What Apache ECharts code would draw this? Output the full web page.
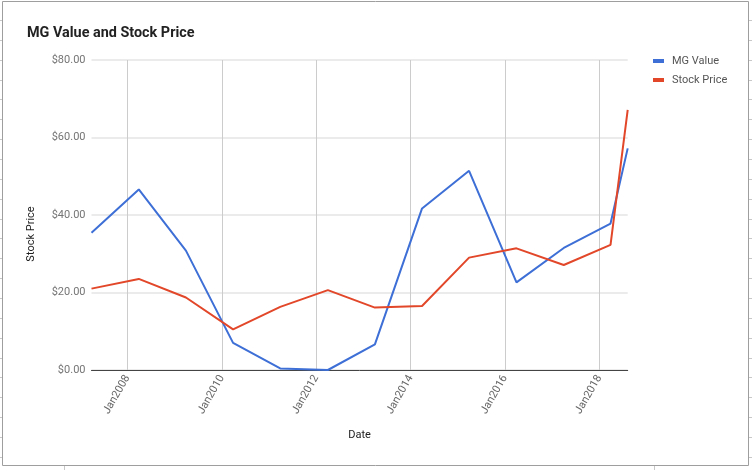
<!DOCTYPE html>
<html>
<head>
<meta charset="utf-8">
<script src="https://cdn.jsdelivr.net/npm/echarts@6/dist/echarts.min.js"></script>
<style>
  html, body { margin: 0; padding: 0; background: #fff; }
  #chart { width: 752px; height: 470px; }
</style>
</head>
<body>
<div id="chart"></div>
<script>
// ---- data ----
const dates = ['2007-03-28', '2008-03-28', '2009-03-28', '2010-03-28', '2011-03-28', '2012-03-31',
               '2013-03-30', '2014-03-30', '2015-03-29', '2016-03-30', '2017-03-31', '2018-03-28', '2018-08-08'];
const mgValue = [35.4, 46.6, 30.8, 7.0, 0.4, 0.0, 6.6, 41.7, 51.4, 22.6, 31.5, 37.8, 57.2];
const stockPrice = [21.0, 23.5, 18.7, 10.5, 16.3, 20.6, 16.1, 16.5, 29.0, 31.4, 27.1, 32.3, 67.1];
const xTickYears = [2008, 2010, 2012, 2014, 2016, 2018];
const yTicks = { min: 0, max: 80, interval: 20 };

const toTime = s => { const p = s.split('-').map(Number); return Date.UTC(p[0], p[1] - 1, p[2]); };
const times = dates.map(toTime);
const xTickValues = xTickYears.map(y => Date.UTC(y, 0, 1));
const months = ['Jan','Feb','Mar','Apr','May','Jun','Jul','Aug','Sep','Oct','Nov','Dec'];

const chart = echarts.init(document.getElementById('chart'), null, { renderer: 'canvas' });

// decorative spreadsheet frame
const deco = [];
deco.push({ type: 'rect', shape: { x: 2.5, y: 1.5, width: 746, height: 464 },
  style: { fill: 'none', stroke: '#9e9e9e', lineWidth: 1 }, silent: true, z: -1 });
for (let k = 0; k < 23; k++) {
  const y = Math.round(20 + 19.86 * k) + 0.5;
  deco.push({ type: 'line', shape: { x1: 0, y1: y, x2: 2, y2: y }, style: { stroke: '#c8c8c8', lineWidth: 1 }, silent: true });
  deco.push({ type: 'line', shape: { x1: 749, y1: y, x2: 752, y2: y }, style: { stroke: '#c8c8c8', lineWidth: 1 }, silent: true });
}
[64.5, 654.5].forEach(x => deco.push({ type: 'line', shape: { x1: x, y1: 466, x2: x, y2: 470 }, style: { stroke: '#c8c8c8', lineWidth: 1 }, silent: true }));

chart.setOption({
  animation: false,
  textStyle: { fontFamily: 'Roboto' },
  title: {
    text: 'MG Value and Stock Price',
    left: 27, top: 26, padding: 0,
    textStyle: { fontFamily: 'Roboto', fontSize: 14.4, fontWeight: 'bold', color: '#222' }
  },
  legend: {
    orient: 'vertical',
    left: 653, top: 54, padding: 0,
    icon: 'rect', itemWidth: 11, itemHeight: 4, itemGap: 5,
    textStyle: { fontFamily: 'Roboto', fontSize: 11, color: '#555', lineHeight: 14, padding: [0, 0, 0, 3] },
    data: ['MG Value', 'Stock Price']
  },
  grid: { left: 91.5, right: 124.3, top: 60, bottom: 100, containLabel: false, outerBoundsMode: 'none' },
  xAxis: {
    type: 'value',
    min: 'dataMin', max: 'dataMax',
    name: 'Date', nameLocation: 'middle', nameGap: 60,
    nameTextStyle: { fontFamily: 'Roboto', fontSize: 11, color: '#222' },
    axisLine: { show: true, lineStyle: { color: '#444', width: 1 } },
    axisTick: { show: false, customValues: xTickValues },
    axisLabel: {
      customValues: xTickValues,
      rotate: 60, margin: 6,
      fontFamily: 'Roboto', fontSize: 11, color: '#666',
      formatter: v => { const d = new Date(v); return months[d.getUTCMonth()] + d.getUTCFullYear(); }
    },
    splitLine: { show: true, lineStyle: { color: '#cccccc', width: 1 } }
  },
  yAxis: {
    type: 'value',
    min: yTicks.min, max: yTicks.max, interval: yTicks.interval,
    name: 'Stock Price', nameLocation: 'middle', nameGap: 55,
    nameTextStyle: { fontFamily: 'Roboto', fontSize: 11, color: '#222', padding: [0, 38, 0, 0] },
    axisLine: { show: false },
    axisTick: { show: false },
    axisLabel: {
      margin: 6, fontFamily: 'Roboto', fontSize: 11, color: '#757575',
      formatter: v => '$' + v.toFixed(2)
    },
    splitLine: { show: true, lineStyle: { color: '#ebebeb', width: 2 } }
  },
  series: [
    {
      name: 'MG Value', type: 'line', symbol: 'none',
      data: times.map((t, i) => [t, mgValue[i]]),
      lineStyle: { width: 2, color: '#3d6fd6' }, itemStyle: { color: '#3d6fd6' }, z: 3
    },
    {
      name: 'Stock Price', type: 'line', symbol: 'none',
      data: times.map((t, i) => [t, stockPrice[i]]),
      lineStyle: { width: 2, color: '#e2472a' }, itemStyle: { color: '#e2472a' }, z: 4
    }
  ],
  graphic: deco
});
</script>
</body>
</html>
